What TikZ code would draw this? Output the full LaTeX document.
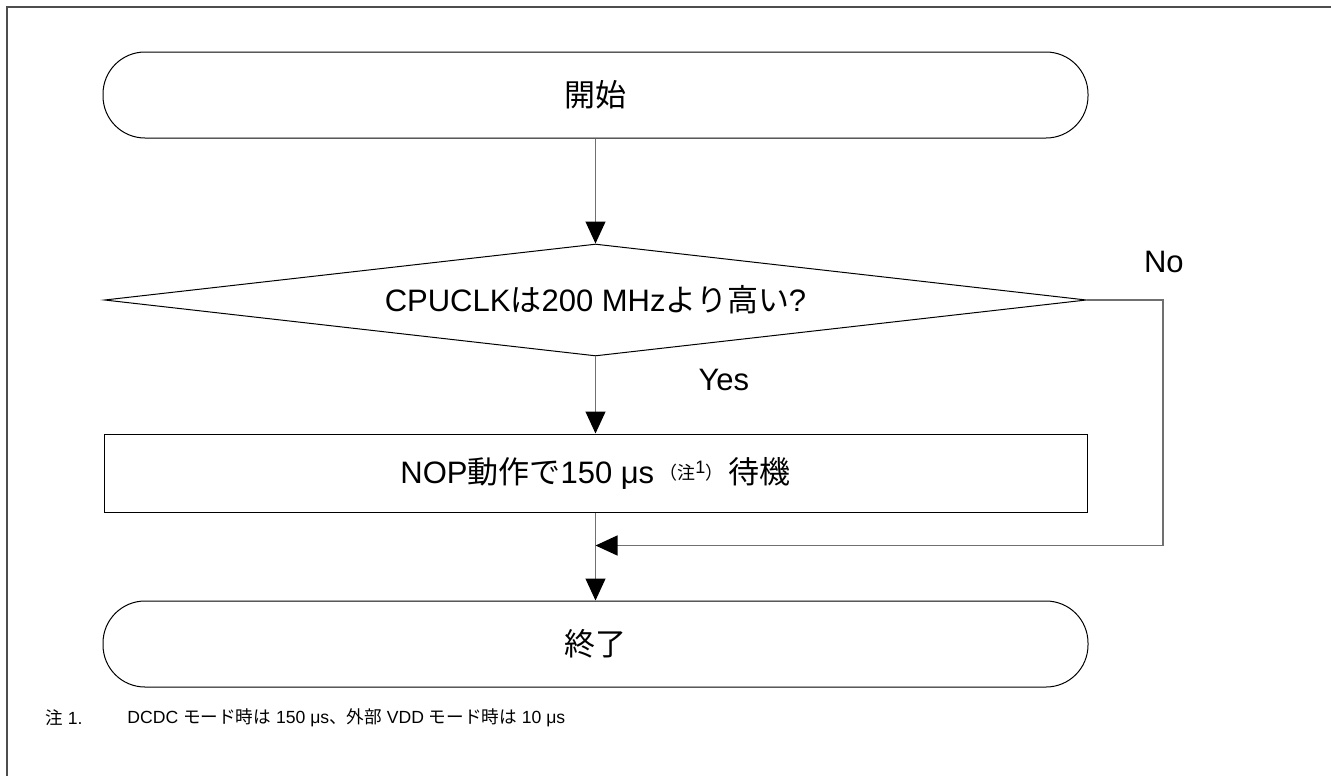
\documentclass[tikz,border=0pt]{standalone}
\usepackage{fontspec}
\setmainfont{Liberation Sans}
\newfontfamily\jpfont{Noto Sans CJK JP}
\usetikzlibrary{arrows.meta,positioning,calc,shapes.geometric}
\definecolor{framegray}{HTML}{4D4D4D}
\definecolor{linegray}{HTML}{707070}

\begin{document}
\begin{tikzpicture}[every node/.style={font=\fontsize{15.5}{18}\selectfont,align=center},
  >={Triangle[width=10pt,length=11pt,color=black]}]
  \useasboundingbox (0,0) rectangle (665.5pt,-388pt);
  \tikzset{
    term/.style={draw, line width=0.5pt, rounded corners=21pt, minimum width=492.5pt, minimum height=43pt},
    decide/.style={draw, diamond, line width=0.5pt, aspect=8.77, inner sep=0pt, minimum width=491pt, minimum height=56pt},
    proc/.style={draw, line width=0.5pt, minimum width=491.5pt, minimum height=39pt},
    conn/.style={draw=linegray, line width=0.6pt},
    note/.style={font=\fontsize{8.8}{10}\selectfont, anchor=west, inner sep=0pt}
  }
  % frame
  \draw[framegray, line width=1pt] (665.5pt,-3.5pt) -- (3.5pt,-3.5pt) -- (3.5pt,-388pt);

  \node[term] (start) at (297.75pt,-47.5pt) {\jpfont 開始};
  \node[decide, below=52.5pt of start] (dia) {CPUCLK{\jpfont は}200 MHz{\jpfont より高い}?};
  \node[proc, below=38.5pt of dia] (wait) {NOP{\jpfont 動作で}150 μs\,{\fontsize{9}{10}\selectfont\raisebox{2pt}{\jpfont （注}\raisebox{5pt}{1}\raisebox{2pt}{\jpfont ）}}\,{\jpfont 待機}};
  \node[term, below=44pt of wait] (stop) {\jpfont 終了};

  \node[above right=10pt and 25pt of dia.east] (no) {No};
  \node[below right=3pt and 48pt of dia.south] (yes) {Yes};

  \coordinate (merge) at ($(wait.south)!0.375!(stop.north)$);
  \coordinate[right=38pt of dia.east] (noright);

  \draw[conn,->] (start) -- (dia);
  \draw[conn,->] (dia) -- (wait);
  \draw[conn,->] (wait) -- (stop);
  \draw[conn,->] (dia.east) -- (noright) |- (merge);

  \node[note] (n1) at (22.5pt,-359pt) {{\jpfont 注} 1.};
  \node[note] (n1txt) at (63.5pt,-359pt) {DCDC {\jpfont モード時は} 150 μs{\jpfont 、外部} VDD {\jpfont モード時は} 10 μs};
\end{tikzpicture}
\end{document}
